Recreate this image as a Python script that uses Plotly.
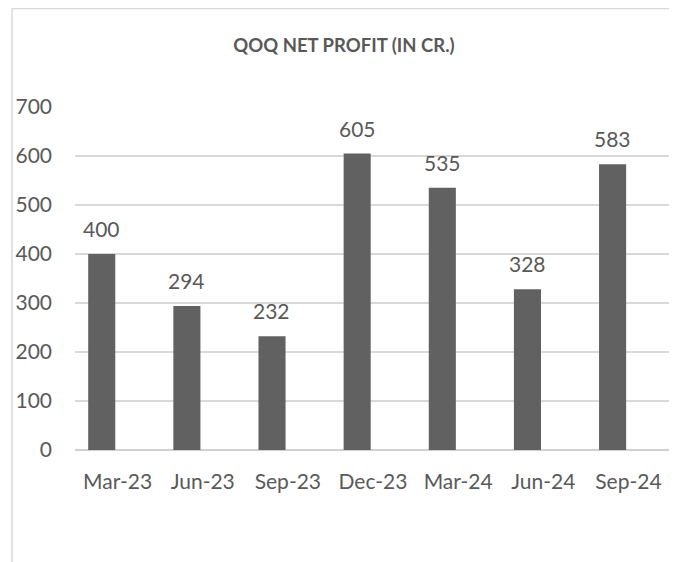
import plotly.graph_objects as go

quarters = ["Mar-23", "Jun-23", "Sep-23", "Dec-23", "Mar-24", "Jun-24", "Sep-24"]
net_profit = [400, 294, 232, 605, 535, 328, 583]
y_ticks = [0, 100, 200, 300, 400, 500, 600, 700]

FONT = "Lato"
TXT = "#595959"

# page body has 8px default margin: figure coordinates = screen - 8
L, R, T, B = 67, 663, 99, 442
W, H = 669, 554
PW, PH = R - L, B - T

fig = go.Figure()
fig.add_trace(go.Bar(
    x=quarters, y=net_profit,
    marker=dict(color="#616161", line=dict(width=0)),
    offset=-0.345, width=0.318,
    hoverinfo="x+y",
))

for q, v in zip(quarters, net_profit):
    fig.add_annotation(x=q, y=v, text=str(v), showarrow=False,
                       xanchor="center", yanchor="bottom",
                       xshift=-16, yshift=11,
                       font=dict(family=FONT, size=21, color=TXT))

# chart border
fig.add_shape(type="rect", xref="paper", yref="paper",
              x0=(4 - L) / PW, x1=(664 - L) / PW,
              y0=(B - 600) / PH, y1=(B - 0.5) / PH,
              line=dict(color="#d9d9d9", width=1.5), fillcolor="rgba(0,0,0,0)",
              layer="below")

fig.update_layout(
    width=W, height=H,
    margin=dict(l=L, r=W - R, t=T, b=H - B),
    paper_bgcolor="white", plot_bgcolor="white",
    title=dict(text="<b>QOQ NET PROFIT (IN CR.)</b>", x=(336 - L) / PW, xref="paper",
               y=(H - 38) / H, yref="container", xanchor="center", yanchor="middle",
               font=dict(family=FONT, size=18.5, color=TXT)),
    showlegend=False,
)
fig.update_yaxes(range=[0, 700], tickvals=y_ticks, showgrid=True,
                 gridcolor="#d9d9d9", gridwidth=1.5, zeroline=True,
                 zerolinecolor="#d0d0d0", zerolinewidth=1.5,
                 showline=False, ticks="", ticklabelstandoff=22,
                 tickfont=dict(family=FONT, size=21, color=TXT))
fig.update_xaxes(showgrid=False, showline=False, ticks="", ticklabelstandoff=17,
                 tickfont=dict(family=FONT, size=21, color=TXT))

fig.write_html("out.html")
